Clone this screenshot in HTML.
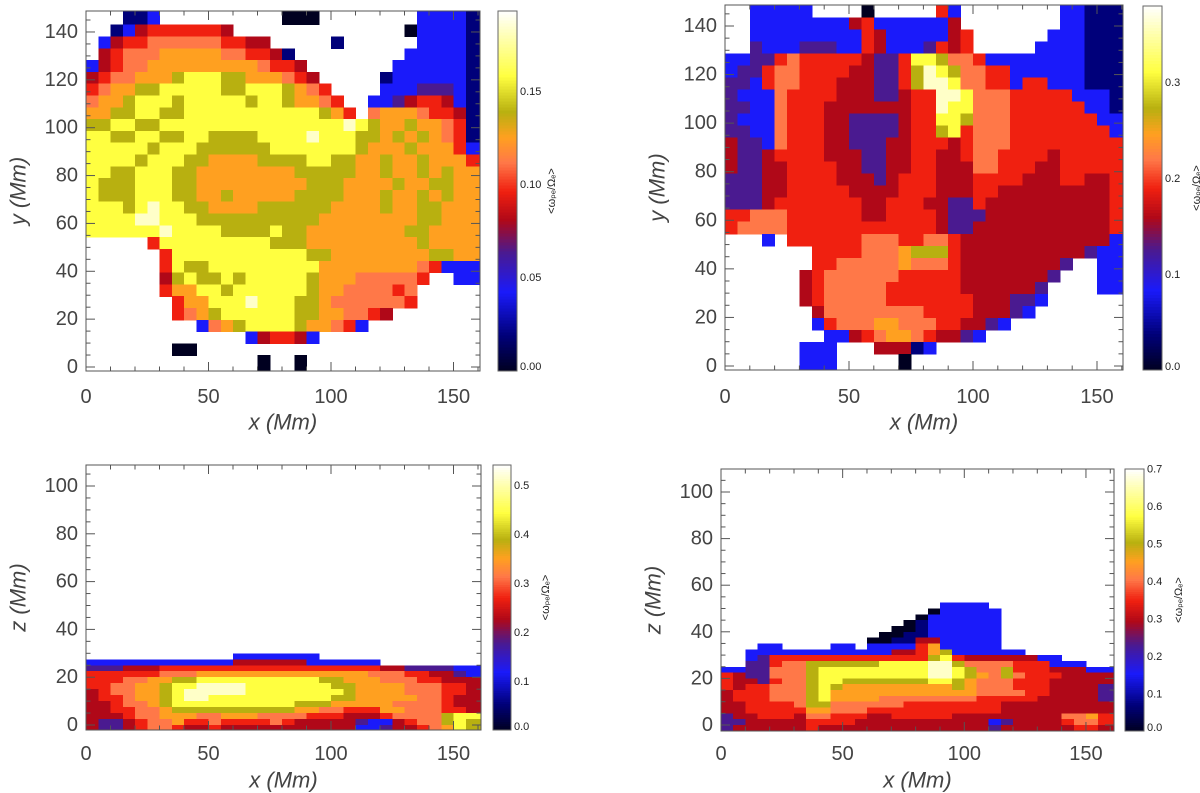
<!DOCTYPE html>
<html><head><meta charset="utf-8">
<style>
html,body{margin:0;padding:0;background:#fff;}
svg{display:block;}
text{font-family:"Liberation Sans",sans-serif;}
</style></head>
<body>
<svg id="fig" width="1200" height="793" viewBox="0 0 1200 793" xmlns="http://www.w3.org/2000/svg"></svg>
<script>
// ---- data: level codes ('.' = no data) ----
const levelCodes = ['0','1','2','3','4','5','6','7','8','9','w'];
const levelFrac = [0,0.1,0.22,0.33,0.42,0.5,0.58,0.65,0.72,0.82,0.95];

const tlRows = [
"...112.."+"........"+"000....."+"...22221",
"..124555"+"5554...."+"........"+"..022221",
".2455666"+"6665544."+"....1..."+"...22221",
".4566677"+"77766554"+"1......."+"..222221",
"24566777"+"77777765"+"54......"+".2222221",
"45667778"+"99988777"+"654....."+"12222221",
"56778899"+"99988999"+"8765...."+"22233321",
"67789998"+"99999899"+"87765..2"+"23455421",
"77889988"+"99999999"+"999875.6"+"77765541",
"88998899"+"99999999"+"99999w98"+"77877651",
"99889988"+"99888899"+"99w99988"+"78787651",
"99999899"+"98888889"+"99999987"+"77877752",
"99998999"+"88777788"+"88998877"+"87787775",
"99889998"+"87777777"+"78888877"+"87787877",
"98889998"+"87777777"+"77888777"+"78778877",
"98889998"+"87787777"+"78888777"+"87787877",
"99989w99"+"88777788"+"88887777"+"87788777",
"9999ww99"+"98888888"+"88877777"+"77788777",
"999999w9"+"99988889"+"88777777"+"77887777",
".....599"+"99999998"+"88777777"+"77787777",
"......59"+"99999999"+"99887777"+"77778877",
"......59"+"88999999"+"99977777"+"77765222",
"......48"+"98898999"+"99877766"+"6665..22",
"......57"+"79989999"+"99877666"+"656.....",
".......5"+"77999w99"+"98876666"+"665.....",
".......5"+"67899999"+"98877665"+"4.......",
"........"+".2678999"+"9877652."+"........",
"........"+".....245"+"542....."+"........",
".......0"+"0......."+"........"+"........",
"........"+"......0."+".0......"+"........"
];
const trRows = [
"..22222."+"...0...."+".52....."+"...22111",
"..222222"+"22452222"+"224....."+"...22111",
"..222222"+"22254222"+"2245...."+"..222111",
"..322233"+"32254222"+"3545...."+".2222111",
"22335655"+"55543359"+"98665222"+"22222111",
"23356655"+"55443358"+"w9866552"+"22222111",
"33256655"+"54443358"+"ww966552"+"55222111",
"32226555"+"54443345"+"5ww96665"+"55552221",
"33226555"+"44444445"+"5w996665"+"55555221",
"32226555"+"44333345"+"59986665"+"55555522",
"33226555"+"44333345"+"58956665"+"55555552",
"43326555"+"44333445"+"55456665"+"55555555",
"43345555"+"44433445"+"54456655"+"55455555",
"43344555"+"54433445"+"54446655"+"54455555",
"33344555"+"54443455"+"54445555"+"44455445",
"33344555"+"55444455"+"54445544"+"44444445",
"33345555"+"55544555"+"44335444"+"44444445",
"55666555"+"55544555"+"54333444"+"44444445",
"56666555"+"55555555"+"54334444"+"44444445",
"...2.555"+"55566655"+"66544444"+"44444442",
".......5"+"55566678"+"88544444"+"44444322",
".......5"+"56666676"+"66544444"+"4443..22",
"......45"+"66666655"+"55544444"+"443...22",
"......45"+"66666555"+"55544444"+"43....22",
"......45"+"66666555"+"55554443"+"32......",
".......4"+"66666666"+"55554443"+"2.......",
".......2"+"56667766"+"6554432."+"........",
"........"+"22456776"+"54432..."+"........",
"......22"+"2...4441"+"2......."+"........",
"......22"+"2.....0."+"........"+"........"
];
const blRows = [
"........"+"....2222"+"222....."+"........",
"22222222"+"22224444"+"44222222"+"........",
"33344455"+"55555555"+"55555555"+"44333322",
"55555566"+"67777777"+"77777776"+"66554432",
"55566778"+"89999999"+"99988777"+"66655444",
"55667789"+"9wwww999"+"99998877"+"77666554",
"45667789"+"wwwww999"+"99999877"+"77666554",
"45567789"+"ww999999"+"99998877"+"77766544",
"44566789"+"99999999"+"98887777"+"76666544",
"44556678"+"88888888"+"87766555"+"77666554",
"44456677"+"76677766"+"66555444"+"56666899",
"43345667"+"55655556"+"54444432"+"24566898",
"43345665"+"44544444"+"44444422"+"34456798"
];
const brRows = [
"........"+"........"+"........"+"........",
"........"+"........"+"..2222.."+"........",
"........"+"........"+".022222."+"........",
"........"+"........"+"0222222."+"........",
"........"+".......0"+"1222222."+"........",
"........"+"......00"+"1222222."+"........",
"........"+".....001"+"1222222."+"........",
"........"+"....0011"+"4422222."+"........",
"...22..."+".22.2222"+"5722222."+"........",
"..222222"+"22222244"+"57822222"+"2.......",
"..235555"+"55555555"+"58954444"+"4422....",
"..335668"+"88888999"+"9ww86666"+"555222..",
"22336668"+"99999999"+"9ww98668"+"55544422",
"54336668"+"99999999"+"9ww98768"+"65554444",
"54435668"+"99888888"+"89987666"+"55544444",
"54556668"+"98777777"+"77787666"+"55544443",
"45556668"+"97777777"+"77777666"+"65544443",
"45556668"+"97777666"+"66666555"+"55444443",
"44555568"+"86666665"+"55555554"+"44444444",
"44555557"+"76665555"+"55555554"+"44444444",
"34455546"+"65554455"+"55544444"+"44446675",
"33444445"+"55544444"+"44444423"+"44445665",
"34444445"+"44444444"+"44444434"+"44444554"
];
// colorbar tick labels
const cbTicksTL = [0.00,0.05,0.10,0.15];
const cbTicksTR = [0.0,0.1,0.2,0.3];
const cbTicksBL = [0.0,0.1,0.2,0.3,0.4,0.5];
const cbTicksBR = [0.0,0.1,0.2,0.3,0.4,0.5,0.6,0.7];
const xTicks = [0,50,100,150];
const yTicksTop = [0,20,40,60,80,100,120,140];
const zTicks = [0,20,40,60,80,100];

const stops = [[0,[0,0,32]],[0.1,[0,0,122]],[0.22,[26,26,250]],[0.33,[74,26,144]],[0.42,[176,8,24]],[0.5,[240,32,16]],[0.58,[255,120,72]],[0.65,[255,160,32]],[0.72,[184,176,16]],[0.82,[255,255,64]],[0.95,[255,255,200]],[1,[255,255,255]]];
function cmap(f){
  f=Math.max(0,Math.min(1,f));
  for(let i=1;i<stops.length;i++){
    if(f<=stops[i][0]){
      const a=stops[i-1],b=stops[i],t=(f-a[0])/(b[0]-a[0]);
      const c=a[1].map((v,k)=>Math.round(v+(b[1][k]-v)*t));
      return 'rgb('+c.join(',')+')';
    }
  }
  return 'rgb(255,255,255)';
}
const NS='http://www.w3.org/2000/svg';
const svg=document.getElementById('fig');
function mk(tag,attrs,parent){
  const e=document.createElementNS(NS,tag);
  for(const k in attrs) e.setAttribute(k,attrs[k]);
  (parent||svg).appendChild(e);
  return e;
}

const panels = [
 {id:'top-left', rows:tlRows, extTop:true, x0:86, x1:480, xpx:2.45, yZero:367, ypx:2.393, top:11, bottom:371, gTop:148, gH:148/30,
  ticksY:yTicksTop, ytitle:'y', cb:{x:498,w:19,top:11,bot:371,zero:371,ppu:1860,ticks:cbTicksTL,dec:2}, labX:78, titleX:18, xlabY:397, xtitleY:422},
 {id:'top-right', rows:trRows, extTop:true, x0:725, x1:1123, xpx:2.48, yZero:366, ypx:2.4286, top:5, bottom:370, gTop:148.5, gH:148.5/30,
  ticksY:yTicksTop, ytitle:'y', cb:{x:1143,w:19,top:6,bot:370,zero:371,ppu:960,ticks:cbTicksTR,dec:1}, labX:717, titleX:657, xlabY:397, xtitleY:422},
 {id:'bottom-left', rows:blRows, extTop:false, x0:86, x1:481, xpx:2.45, yZero:725, ypx:2.39, top:465, bottom:730, gTop:30, gH:2.5,
  ticksY:zTicks, ytitle:'z', cb:{x:493,w:18,top:465,bot:730,zero:731,ppu:490,ticks:cbTicksBL,dec:1}, labX:78, titleX:18, xlabY:754, xtitleY:780},
 {id:'bottom-right', rows:brRows, extTop:false, x0:721, x1:1114, xpx:2.433, yZero:725, ypx:2.33, top:469, bottom:731, gTop:55, gH:2.5,
  ticksY:zTicks, ytitle:'z', cb:{x:1125,w:19,top:469,bot:731,zero:732,ppu:375,ticks:cbTicksBR,dec:1}, labX:713, titleX:653, xlabY:754, xtitleY:780}
];

panels.forEach((p,pi)=>{
  const xs=v=>p.x0+v*p.xpx;
  const ys=v=>p.yZero-v*p.ypx;
  const g=mk('g',{});
  
  
  const cid='clip'+pi;
  const cp=mk('clipPath',{id:cid},g);
  mk('rect',{x:p.x0,y:p.top,width:p.x1-p.x0,height:p.bottom-p.top},cp);
  const hm=mk('g',{'clip-path':'url(#'+cid+')','shape-rendering':'crispEdges'},g);
  
  
  const nr=p.rows.length;
  p.rows.forEach((row,r)=>{
    for(let c=0;c<32;c++){
      const ch=row[c]||'.';
      const li=levelCodes.indexOf(ch);
      if(li<0) continue;
      let xa=xs(c*5), xb=(c===31)?p.x1:xs((c+1)*5);
      let ya=(r===0&&p.extTop)?p.top:ys(p.gTop-r*p.gH), yb=(r===nr-1)?p.bottom:ys(p.gTop-(r+1)*p.gH);
      const rc=mk('rect',{x:xa.toFixed(2),y:ya.toFixed(2),width:(xb-xa+0.6).toFixed(2),height:(yb-ya+0.6).toFixed(2),fill:cmap(levelFrac[li])},hm);
      
      
    }
  });
  const fr=mk('rect',{x:p.x0,y:p.top,width:p.x1-p.x0,height:p.bottom-p.top,fill:'none',stroke:'#555','stroke-width':1},g);
  
  
  const xmax=(p.x1-p.x0)/p.xpx;
  for(let v=0;v<=xmax;v+=10){
    const X=xs(v), major=(v%50===0), L=major?9:4.5;
    mk('line',{x1:X,x2:X,y1:p.bottom,y2:p.bottom-L,stroke:'#555','stroke-width':1},g);
    mk('line',{x1:X,x2:X,y1:p.top,y2:p.top+L,stroke:'#555','stroke-width':1},g);
  }
  xTicks.forEach(v=>{
    const t=mk('text',{x:xs(v),y:p.xlabY,'font-size':20,'text-anchor':'middle','dominant-baseline':'central',fill:'#444'},g);
    t.textContent=String(v);
    
    
  });
  const ymax=(p.yZero-p.top)/p.ypx;
  for(let v=0;v<=ymax;v+=5){
    const Y=ys(v), major=(v%20===0), L=major?9:4.5;
    mk('line',{x1:p.x0,x2:p.x0+L,y1:Y,y2:Y,stroke:'#555','stroke-width':1},g);
    mk('line',{x1:p.x1,x2:p.x1-L,y1:Y,y2:Y,stroke:'#555','stroke-width':1},g);
  }
  p.ticksY.forEach(v=>{
    const t=mk('text',{x:p.labX,y:ys(v),'font-size':20,'text-anchor':'end','dominant-baseline':'central',fill:'#444'},g);
    t.textContent=String(v);
    
    
  });
  const xt=mk('text',{x:(p.x0+p.x1)/2,y:p.xtitleY,'font-size':22,'text-anchor':'middle','dominant-baseline':'central',fill:'#444','font-style':'italic','font-family':'"Liberation Serif",serif'},g);
  xt.textContent='x  (Mm)';
  
  
  const cy=(p.top+p.bottom)/2;
  const yt=mk('text',{x:p.titleX,y:cy,'font-size':22,'text-anchor':'middle','dominant-baseline':'central',fill:'#444','font-style':'italic','font-family':'"Liberation Serif",serif',transform:'rotate(-90 '+p.titleX+' '+cy+')'},g);
  yt.textContent=p.ytitle+'  (Mm)';
  
  
  const cb=p.cb;
  const cg=mk('g',{'shape-rendering':'crispEdges'},g);
  
  
  const N=120, hgt=cb.bot-cb.top;
  for(let i=0;i<N;i++){
    const f0=i/N;
    const yb=cb.bot-f0*hgt, ya=cb.bot-(i+1)/N*hgt;
    mk('rect',{x:cb.x,y:ya.toFixed(2),width:cb.w,height:(yb-ya+0.6).toFixed(2),fill:cmap((i+0.5)/N)},cg);
  }
  mk('rect',{x:cb.x,y:cb.top,width:cb.w,height:hgt,fill:'none',stroke:'#666','stroke-width':1},cg);
  cb.ticks.forEach((v,i)=>{
    let Y=cb.zero-v*cb.ppu; if(i===0) Y-=4;
    const t=mk('text',{x:cb.x+cb.w+3,y:Y,'font-size':11,'dominant-baseline':'central',fill:'#222'},cg);
    t.textContent=v.toFixed(cb.dec);
    
    
  });
  const tx=cb.x+cb.w+35, ty=(cb.top+cb.bot)/2;
  const ct=mk('text',{x:tx,y:ty,'font-size':11,'text-anchor':'middle','dominant-baseline':'central',fill:'#222',transform:'rotate(-90 '+tx+' '+ty+')'},cg);
  ct.textContent='<ω\u209A\u2091/Ω\u2091>';
  
  
});
</script>
</body></html>
